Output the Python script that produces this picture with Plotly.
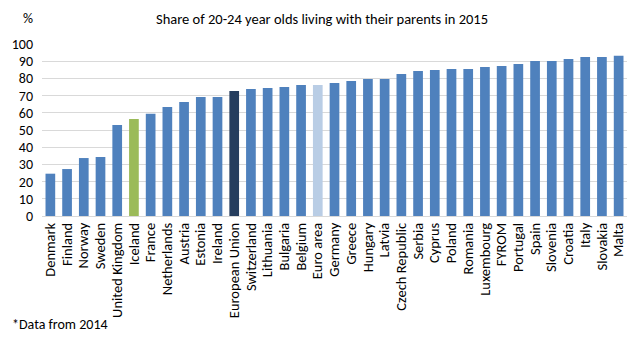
import plotly.graph_objects as go

countries = ["Denmark", "Finland", "Norway", "Sweden", "United Kingdom", "Iceland", "France",
             "Netherlands", "Austria", "Estonia", "Ireland", "European Union", "Switzerland",
             "Lithuania", "Bulgaria", "Belgium", "Euro area", "Germany", "Greece", "Hungary",
             "Latvia", "Czech Republic", "Serbia", "Cyprus", "Poland", "Romania", "Luxembourg",
             "FYROM", "Portugal", "Spain", "Slovenia", "Croatia", "Italy", "Slovakia", "Malta"]
values = [24.6, 27.3, 33.7, 34.3, 52.9, 56.4, 59.5, 63.4, 66.3, 69.2, 69.2, 72.7, 73.8,
          74.4, 75.0, 76.2, 76.2, 77.3, 78.5, 79.7, 79.7, 82.6, 84.3, 84.9, 85.5, 85.5, 86.6,
          87.2, 88.4, 90.1, 90.1, 91.3, 92.4, 92.4, 93.2]

base_color = "#4F81BD"
special_colors = {"Iceland": "#9BBB59", "European Union": "#253D5E", "Euro area": "#B9CDE5"}
colors = [special_colors.get(c, base_color) for c in countries]

fig = go.Figure(go.Bar(x=countries, y=values, marker=dict(color=colors, line=dict(width=0)),
                       hoverinfo="x+y"))

font_family = "Carlito, Calibri, 'Open Sans', 'Liberation Sans', sans-serif"

L, R, T, B = 42, 16, 44, 124
W, H = 643, 340

fig.update_layout(
    width=W, height=H,
    margin=dict(l=L, r=R, t=T, b=B),
    paper_bgcolor="white", plot_bgcolor="white",
    bargap=0.42,
    showlegend=False,
    font=dict(family=font_family, size=14, color="#000000"),
    xaxis=dict(tickangle=-90, showgrid=False, ticks="", showline=True,
               linecolor="#D9D9D9", linewidth=1,
               tickmode="array", tickvals=countries, ticktext=countries,
               tickfont=dict(size=14.5, color="#000000"), automargin=False),
    yaxis=dict(range=[0, 100], dtick=10, showgrid=True, gridcolor="#D9D9D9",
               gridwidth=1, zeroline=False, ticks="", showline=False,
               ticklabelstandoff=8,
               tickfont=dict(size=14, color="#000000"), automargin=False),
)

pw = W - L - R
ph = H - T - B


def px_ann(text, px, py, size, xanchor="center"):
    return dict(text=text, xref="paper", yref="paper",
                x=(px - L) / pw, y=(H - B - py) / ph,
                xanchor=xanchor, yanchor="middle", showarrow=False,
                font=dict(size=size, color="#000000"))


fig.update_layout(annotations=[
    px_ann("Share of 20-24 year olds living with their parents in 2015", 322, 19, 14.5),
    px_ann("%", 28, 19, 14),
    px_ann("*Data from 2014", 10, 324, 14, xanchor="left"),
])

fig.write_html("out.html")
